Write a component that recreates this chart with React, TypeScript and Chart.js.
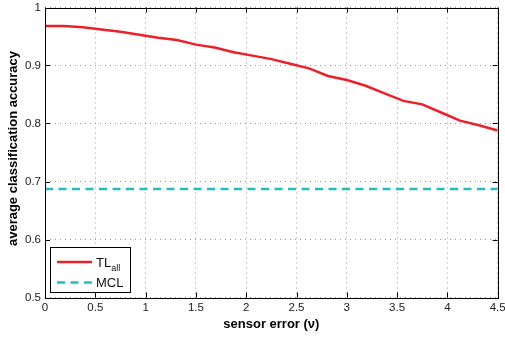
import React, { useEffect, useRef } from "react";
import { Chart, registerables } from "chart.js";

Chart.register(...registerables);

// sensor error values (x)
const sensorError = [
  0, 0.1875, 0.375, 0.5625, 0.75, 0.9375, 1.125, 1.3125, 1.5, 1.6875, 1.875, 2.0625,
  2.25, 2.4375, 2.625, 2.8125, 3.0, 3.1875, 3.375, 3.5625, 3.75, 3.9375, 4.125, 4.3125, 4.5,
];
// TL_all average classification accuracy
const tlAll = [
  0.968, 0.968, 0.966, 0.962, 0.958, 0.953, 0.948, 0.944, 0.936, 0.931, 0.923, 0.917,
  0.911, 0.903, 0.895, 0.882, 0.875, 0.865, 0.852, 0.839, 0.833, 0.819, 0.805, 0.797, 0.788,
];
// MCL (constant)
const mclX = [0, 4.5];
const mclY = [0.687, 0.687];

const xMin = 0;
const xMax = 4.5;
const xStep = 0.5;
const yMin = 0.5;
const yMax = 1;
const yStep = 0.1;

const RED = "rgb(236,32,40)";
const TEAL = "rgb(32,190,192)";
const FONT = "'Liberation Sans', Arial, Helvetica, sans-serif";

const fmt = (v: any) => String(Math.round(Number(v) * 100) / 100);

const framePlugin = {
  id: "framePlugin",
  afterDraw(chart: any) {
    const { ctx, chartArea } = chart;
    const { left, right, top, bottom } = chartArea;
    const xs = chart.scales.x;
    const ys = chart.scales.y;
    ctx.save();
    // frame
    ctx.strokeStyle = "#000";
    ctx.lineWidth = 1;
    ctx.setLineDash([]);
    ctx.strokeRect(Math.round(left) + 0.5, Math.round(top) + 0.5, Math.round(right - left), Math.round(bottom - top));
    // inward ticks
    const tl = 5;
    ctx.beginPath();
    xs.ticks.forEach((t: any) => {
      const px = Math.round(xs.getPixelForValue(t.value)) + 0.5;
      ctx.moveTo(px, bottom);
      ctx.lineTo(px, bottom - tl);
      ctx.moveTo(px, top);
      ctx.lineTo(px, top + tl);
    });
    ys.ticks.forEach((t: any) => {
      const py = Math.round(ys.getPixelForValue(t.value)) + 0.5;
      ctx.moveTo(left, py);
      ctx.lineTo(left + tl, py);
      ctx.moveTo(right, py);
      ctx.lineTo(right - tl, py);
    });
    ctx.stroke();

    // axis titles
    ctx.fillStyle = "#000";
    ctx.font = `bold 13px ${FONT}`;
    ctx.textAlign = "center";
    ctx.textBaseline = "middle";
    ctx.fillText("sensor error (\u03bd)", (left + right) / 2, 324);
    ctx.save();
    ctx.translate(13, 148.5);
    ctx.rotate(-Math.PI / 2);
    ctx.fillText("average classification accuracy", 0, 0);
    ctx.restore();

    // legend
    const lx = 50.5, ly = 247.5, lw = 80, lh = 45;
    ctx.fillStyle = "#fff";
    ctx.fillRect(lx, ly, lw, lh);
    ctx.strokeStyle = "#000";
    ctx.lineWidth = 1;
    ctx.strokeRect(lx, ly, lw, lh);

    ctx.lineWidth = 2.5;
    ctx.strokeStyle = RED;
    ctx.beginPath();
    ctx.moveTo(57, 262);
    ctx.lineTo(92, 262);
    ctx.stroke();

    ctx.strokeStyle = TEAL;
    ctx.setLineDash([8, 5.5]);
    ctx.beginPath();
    ctx.moveTo(57, 282.5);
    ctx.lineTo(92, 282.5);
    ctx.stroke();
    ctx.setLineDash([]);

    ctx.fillStyle = "#111";
    ctx.textAlign = "left";
    ctx.textBaseline = "alphabetic";
    ctx.font = `13px ${FONT}`;
    ctx.fillText("TL", 96, 267);
    const tlw = ctx.measureText("TL").width;
    ctx.font = `9px ${FONT}`;
    ctx.fillText("all", 96 + tlw, 271);
    ctx.font = `13px ${FONT}`;
    ctx.fillText("MCL", 96, 287);
    ctx.restore();
  },
};

export default function App() {
  const ref = useRef<HTMLCanvasElement | null>(null);
  useEffect(() => {
    if (!ref.current) return;
    const chart = new Chart(ref.current, {
      type: "line",
      data: {
        datasets: [
          {
            label: "TL_all",
            data: sensorError.map((x, i) => ({ x, y: tlAll[i] })),
            borderColor: RED,
            borderWidth: 2.5,
            pointRadius: 0,
            tension: 0,
            fill: false,
          },
          {
            label: "MCL",
            data: mclX.map((x, i) => ({ x, y: mclY[i] })),
            borderColor: TEAL,
            borderWidth: 2.5,
            borderDash: [8, 5.5],
            pointRadius: 0,
            fill: false,
          },
        ],
      },
      options: {
        animation: false,
        responsive: false,
        devicePixelRatio: 1,
        layout: { padding: { top: 7.5, right: 7.3, left: 0, bottom: 0 } },
        plugins: { legend: { display: false }, tooltip: { enabled: false } },
        scales: {
          x: {
            type: "linear",
            min: xMin,
            max: xMax,
            ticks: {
              stepSize: xStep,
              color: "#222",
              font: { family: FONT, size: 11.5 },
              padding: 3,
              maxRotation: 0,
              callback: (v: any) => fmt(v),
            },
            grid: { color: "#999", lineWidth: 1, drawTicks: false },
            border: { display: false, dash: [1, 4] },
            afterFit(scale: any) {
              scale.height = 39.5;
              scale.paddingLeft = 0;
              scale.paddingRight = 0;
            },
          },
          y: {
            type: "linear",
            min: yMin,
            max: yMax,
            ticks: {
              stepSize: yStep,
              color: "#222",
              font: { family: FONT, size: 11.5 },
              padding: 4,
              callback: (v: any) => fmt(v),
            },
            grid: { color: "#999", lineWidth: 1, drawTicks: false },
            border: { display: false, dash: [1, 4] },
            afterFit(scale: any) {
              scale.width = 45;
              scale.paddingTop = 0;
              scale.paddingBottom = 0;
            },
          },
        },
      },
      plugins: [framePlugin],
    } as any);
    return () => chart.destroy();
  }, []);
  return (
    <div style={{ position: "fixed", left: 0, top: 0, width: 505, height: 337, background: "#fff" }}>
      <canvas ref={ref} width={505} height={337} style={{ width: 505, height: 337, display: "block" }} />
    </div>
  );
}
